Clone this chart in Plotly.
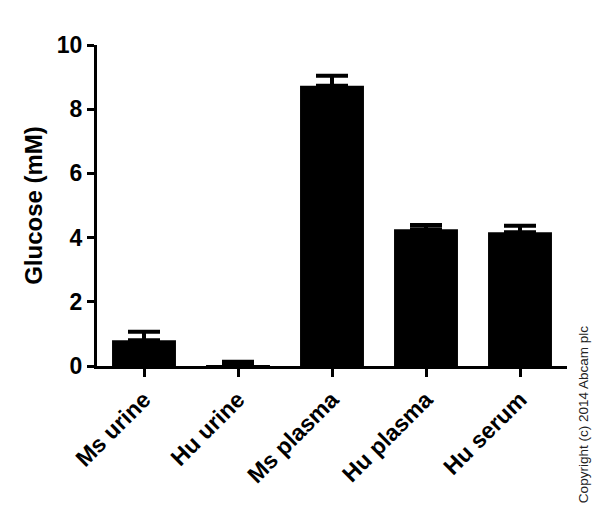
import plotly.graph_objects as go

categories = ["Ms urine", "Hu urine", "Ms plasma", "Hu plasma", "Hu serum"]
glucose_mM = [0.80, 0.03, 8.73, 4.26, 4.17]
error_up = [0.27, 0.10, 0.31, 0.13, 0.20]

FONT = "Liberation Sans, Arial, sans-serif"

fig = go.Figure(go.Bar(
    x=categories,
    y=glucose_mM,
    width=0.68,
    marker=dict(color="black", line=dict(color="black", width=0)),
    error_y=dict(type="data", array=error_up, arrayminus=[0] * len(error_up),
                 symmetric=False, color="black", thickness=4, width=16),
))

# page body has an 8px margin, so offsets compensate for it
fig.update_layout(
    width=600, height=511,
    margin=dict(l=89, r=41, t=37, b=153),
    plot_bgcolor="white", paper_bgcolor="white",
    showlegend=False,
)
fig.update_xaxes(
    range=[-0.5, 4.5],
    showline=True, linecolor="black", linewidth=3,
    ticks="outside", ticklen=8, tickwidth=3, tickcolor="black",
    tickangle=-45,
    tickfont=dict(family=FONT, size=23, color="black", weight="bold"),
    showgrid=False, zeroline=False,
)
fig.update_yaxes(
    range=[0, 10], tickvals=[0, 2, 4, 6, 8, 10],
    showline=True, linecolor="black", linewidth=3,
    ticks="outside", ticklen=7, tickwidth=3, tickcolor="black",
    tickfont=dict(family=FONT, size=23, color="black", weight="bold"),
    title=dict(text="Glucose (mM)", standoff=8,
               font=dict(family=FONT, size=24, color="black", weight="bold")),
    showgrid=False, zeroline=False,
)
fig.add_annotation(
    text="Copyright (c) 2014 Abcam plc",
    xref="paper", yref="paper", x=1.034, y=-0.15,
    xanchor="center", yanchor="middle",
    showarrow=False, textangle=-90,
    font=dict(family=FONT, size=13.5, color="#222222"),
)

fig.write_html("out.html")
